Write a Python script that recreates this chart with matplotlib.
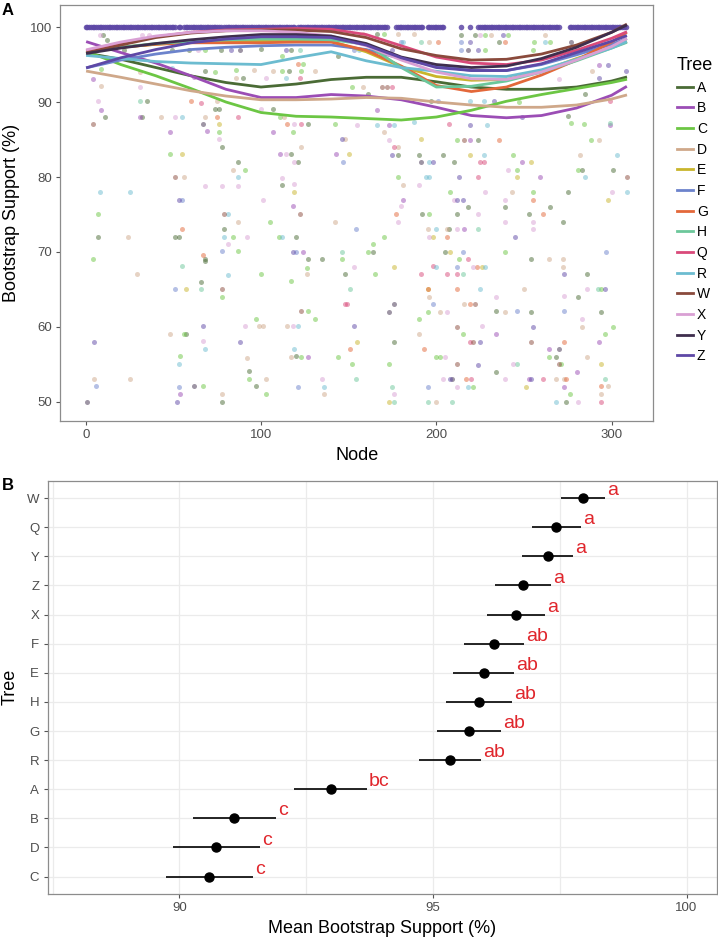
import numpy as np
import matplotlib
matplotlib.use('Agg')
import matplotlib.pyplot as plt
from matplotlib.lines import Line2D

plt.rcParams.update({
    "font.family": ["Liberation Sans", "DejaVu Sans"],
    "axes.edgecolor": "#8C8C8C",
    "axes.linewidth": 0.9,
    "xtick.color": "#555555",
    "ytick.color": "#555555",
    "xtick.labelcolor": "#4D4D4D",
    "ytick.labelcolor": "#4D4D4D",
    "xtick.labelsize": 9.5,
    "ytick.labelsize": 9.5,
})

# ==========================================
# Data
# ==========================================
trees = ["A", "B", "C", "D", "E", "F", "G", "H", "Q", "R", "W", "X", "Y", "Z"]
tree_colors = ["#4A6B35", "#9B4DB5", "#6CC644", "#CFA88A", "#C9B52C", "#6C83CC", "#E3683A",
               "#6CC79B", "#D94A7A", "#6CBCD0", "#8A4A3C", "#D9A0D4", "#3F2E4D", "#5E48A6"]

# nodes where every tree has 100% support (start, end)
full_support_runs = [(0, 51), (53, 54), (56, 77), (79, 119), (121, 172), (177, 192),
                     (195, 204), (214, 214), (219, 219), (224, 270), (276, 308)]

# scattered (node, support) values below 100
pts_A = [(10, 99), (12, 98.3), (22, 97), (11, 88), (7, 72), (35, 90.1), (32, 88), (51, 72), (53, 72),
         (68, 94.1), (74, 89.1), (68, 68.8), (49, 97), (59, 97), (68, 69.1), (66, 66), (57, 59), (93, 54.1),
         (97, 52.1), (78, 50), (127, 69), (135, 69), (120, 56.1), (148, 67), (176, 58), (77, 97), (100, 97.1),
         (117, 97), (144, 96.1), (116, 94.2), (90, 93.2), (76, 89.1), (78, 84), (107, 89.1), (127, 87.1),
         (117, 83.1), (121, 82), (87, 82), (112, 79), (79, 73), (120, 72), (164, 70), (178, 83), (190, 83),
         (192, 75), (161, 91.1), (166, 99.1), (214, 99), (222, 99), (236, 98), (234, 62.1), (254, 62),
         (294, 62), (268, 56), (234, 54), (274, 50), (286, 67), (281, 64), (254, 69), (275, 88.1), (285, 91.1),
         (197, 90.1), (224, 85), (204, 83), (210, 82), (283, 81), (301, 81), (275, 78), (218, 76), (239, 76),
         (265, 76), (212, 75), (253, 75), (272, 74), (207, 73), (205, 70)]
pts_B = [(31, 88), (48, 86), (69, 86.1), (107, 86), (111, 83.1), (118, 76.2), (124, 70), (127, 56), (54, 51),
         (143, 83.1), (173, 87), (181, 77), (234, 59), (264, 57), (280, 54), (253, 53.1), (273, 52), (293, 58),
         (219, 85), (249, 82), (259, 80), (216, 73), (4, 93.1), (9, 89), (62, 93.3), (166, 89), (293, 95),
         (299, 87)]
pts_C = [(9, 94.4), (7, 75.1), (4, 69.1), (48, 83.1), (68, 97), (56, 59.1), (54, 56.1), (67, 52.1), (78, 64),
         (100, 67), (97, 61), (93, 53), (103, 51), (117, 66.1), (126, 67.9), (127, 62.1), (131, 61.1), (123, 56),
         (146, 69), (165, 67), (144, 56), (152, 55), (173, 55.1), (190, 61.1), (213, 69.1), (195, 62), (301, 60),
         (215, 59), (296, 59.1), (200, 56), (202, 56), (264, 56), (271, 55), (221, 52), (276, 51), (294, 65),
         (170, 99.1), (112, 96.1), (124, 95.1), (112, 94.2), (123, 94.1), (76, 86), (111, 88), (118, 86),
         (91, 81), (105, 74), (84, 72), (110, 72), (87, 70.1), (161, 70), (164, 71), (170, 72), (142, 87.1),
         (178, 80), (196, 75), (152, 92), (228, 99), (241, 99), (256, 98), (265, 98), (228, 97), (255, 97),
         (277, 87.2), (284, 87.1), (247, 90), (212, 85), (288, 85), (244, 83), (246, 81), (281, 81), (208, 78),
         (255, 78), (239, 70), (74, 94), (86, 94.3)]
pts_D = [(9, 92.2), (24, 72), (43, 88), (56, 80), (68, 88), (29, 67), (48, 59.1), (5, 53), (25, 53.1),
         (99, 60.1), (101, 60.1), (92, 55.9), (103, 53), (78, 51), (126, 67), (115, 60.1), (117, 56), (136, 51),
         (190, 59.1), (196, 64), (216, 63), (202, 62), (239, 62), (283, 60), (286, 56), (268, 53), (273, 53),
         (298, 52.1), (294, 51), (200, 50), (272, 68), (272, 69), (264, 69), (250, 65), (158, 99.1), (178, 99.1),
         (187, 99.1), (168, 97), (107, 94.1), (131, 94.1), (86, 93.2), (75, 90.1), (113, 88), (123, 84), (84, 81),
         (87, 74), (142, 74), (148, 85.1), (170, 86), (178, 84), (181, 79), (195, 73), (158, 92), (231, 99),
         (262, 99), (196, 98), (289, 94.2), (293, 85), (282, 83), (243, 78), (206, 73), (31, 94), (96, 94.3)]
pts_E = [(55, 83.1), (57, 65), (176, 68), (155, 58), (173, 50), (226, 68), (195, 65), (251, 52), (294, 55),
         (76, 87.1), (119, 78), (150, 83.1), (191, 85.1), (219, 83), (254, 82), (246, 80), (298, 77), (198, 72),
         (208, 70)]
pts_F = [(55, 77), (51, 65), (6, 52.1), (53, 52), (121, 52), (212, 68), (198, 63), (246, 62.1), (273, 62.1),
         (195, 52), (153, 97), (180, 98), (154, 73), (78, 70.1), (120, 70), (147, 82), (201, 90.1), (214, 98),
         (214, 97), (215, 70), (297, 70)]
pts_G = [(55, 73.1), (60, 90.1), (75, 88), (67, 69.6), (151, 57), (195, 65), (193, 57), (223, 68), (212, 65),
         (219, 63), (273, 58), (217, 53), (274, 53), (294, 52.1), (121, 95.1), (115, 87.1), (177, 75), (201, 98),
         (239, 98), (236, 85), (255, 77), (261, 75), (206, 72)]
pts_H = [(31, 90.1), (55, 68.1), (66, 65), (151, 65.1), (154, 53.1), (175, 52), (176, 50), (195, 50), (215, 67),
         (246, 55), (296, 53), (209, 50), (292, 65), (122, 97), (191, 98), (146, 70), (299, 87.2), (224, 73)]
pts_Q = [(66, 89.9), (87, 88), (123, 87.1), (122, 93.2), (148, 63.1), (149, 63.1), (191, 67), (198, 68.1),
         (218, 69.1), (206, 67.1), (212, 67.1), (219, 58), (220, 53), (261, 53.1), (294, 50), (176, 84),
         (175, 92), (207, 87.1), (225, 82), (227, 82), (224, 80), (299, 90.1)]
pts_R = [(8, 78), (25, 78), (55, 88), (79, 72), (68, 57.1), (53, 55), (81, 66.9), (121, 60.1), (119, 57.1),
         (136, 52), (200, 68), (228, 68), (225, 65), (218, 52), (268, 50), (49, 94.6), (156, 97), (181, 98),
         (114, 93.2), (87, 80), (81, 75), (112, 72), (166, 87), (176, 87), (196, 80), (187, 87.3), (262, 98),
         (229, 87), (219, 90.1), (227, 90.1), (227, 83), (303, 83), (196, 82), (194, 80), (285, 80), (309, 78),
         (200, 73)]
pts_W = [(4, 87.1), (51, 80), (78, 65), (123, 62.1), (222, 63), (212, 60), (221, 58), (254, 58), (212, 55),
         (270, 55), (122, 75), (79, 75), (169, 92), (172, 92), (216, 85), (309, 80)]
pts_X = [(8, 99), (7, 90.1), (51, 88), (64, 97), (32, 99), (36, 99), (68, 78.8), (67, 58.1), (91, 60.1),
         (118, 60.1), (135, 53.1), (153, 68), (176, 51), (221, 68), (234, 64), (206, 62), (226, 60.1), (283, 61),
         (205, 56), (244, 55), (204, 53), (239, 53), (212, 52), (281, 50), (286, 65), (273, 64.1), (103, 93.2),
         (76, 85.1), (100, 89.1), (119, 87.1), (114, 83.1), (119, 82), (78, 78.8), (87, 78.8), (112, 79.9),
         (119, 79.1), (101, 77), (92, 72), (81, 71.1), (155, 87), (173, 85), (178, 74), (180, 76.2), (190, 79),
         (225, 99), (270, 93.1), (241, 81), (228, 78), (300, 78), (210, 77), (239, 77), (224, 75), (239, 74),
         (255, 74), (212, 73), (196, 72), (255, 73), (31, 92)]
pts_Y = [(67, 87.1), (62, 52.1), (1, 50), (173, 62), (176, 63.1), (270, 57), (209, 53), (88, 97), (191, 82),
         (277, 98), (218, 97)]
pts_Z = [(53, 77), (5, 58), (67, 60.1), (52, 50), (88, 58), (153, 60.1), (225, 58), (224, 54.9), (208, 53),
         (254, 53.1), (255, 60), (296, 65), (273, 67), (83, 97), (114, 97), (175, 97), (118, 70), (146, 85.1),
         (175, 83), (238, 99), (219, 98), (224, 97), (298, 95), (308, 94.1), (293, 93.2), (219, 87), (233, 90.2),
         (249, 88), (198, 82), (213, 80), (212, 77), (215, 77), (245, 72)]

# smoothed trend per tree, read at these nodes
fit_nodes = [1, 20, 40, 60, 80, 100, 120, 140, 160, 180, 200, 220, 240, 260, 280, 300, 308]
fit_A = [96.5, 95.7, 94.6, 93.5, 92.6, 92.0, 92.4, 93.0, 93.3, 93.3, 92.7, 92.0, 91.7, 91.7, 92.0, 92.8, 93.3]
fit_B = [98.0, 96.6, 95.2, 93.5, 91.7, 90.6, 90.6, 91.0, 90.8, 90.3, 89.3, 88.2, 87.9, 88.2, 89.2, 90.9, 92.0]
fit_C = [96.7, 95.0, 93.5, 91.8, 90.0, 88.6, 88.1, 88.0, 87.8, 87.6, 88.0, 88.9, 90.1, 91.0, 91.8, 92.6, 93.0]
fit_D = [94.1, 93.3, 92.4, 91.5, 90.8, 90.3, 90.3, 90.4, 90.6, 90.5, 90.0, 89.6, 89.3, 89.3, 89.6, 90.4, 90.9]
fit_E = [96.8, 97.3, 97.7, 98.0, 98.1, 98.1, 98.1, 98.1, 96.7, 94.7, 93.4, 92.9, 93.0, 94.1, 95.8, 97.3, 98.0]
fit_F = [94.6, 95.6, 96.4, 97.0, 97.3, 97.5, 97.6, 97.6, 97.0, 95.8, 94.8, 94.2, 94.2, 95.0, 96.3, 97.7, 98.4]
fit_G = [96.8, 97.3, 97.7, 97.9, 97.9, 97.9, 98.0, 98.0, 96.9, 94.8, 92.2, 91.4, 92.0, 93.6, 95.6, 98.0, 99.2]
fit_H = [96.8, 97.3, 97.8, 98.1, 98.3, 98.4, 98.4, 98.3, 97.7, 94.6, 92.0, 92.1, 92.8, 94.0, 95.5, 97.2, 97.9]
fit_Q = [96.9, 97.8, 98.7, 99.3, 99.6, 99.7, 99.8, 99.7, 99.0, 97.5, 96.0, 95.2, 95.0, 95.6, 96.9, 98.5, 99.3]
fit_R = [96.2, 95.8, 95.4, 95.2, 95.1, 95.0, 95.9, 96.7, 95.5, 94.6, 94.1, 93.5, 93.4, 94.3, 95.7, 97.2, 98.0]
fit_W = [96.6, 97.6, 98.6, 99.2, 99.5, 99.6, 99.6, 99.4, 98.6, 97.1, 96.2, 95.6, 95.7, 96.4, 97.6, 99.3, 100.3]
fit_X = [97.0, 98.0, 98.8, 99.3, 99.5, 99.5, 99.3, 98.8, 97.5, 95.6, 94.0, 93.1, 93.0, 94.0, 95.6, 97.4, 98.4]
fit_Y = [96.5, 97.2, 97.8, 98.3, 98.7, 99.0, 99.0, 98.8, 97.8, 96.0, 95.0, 94.6, 94.8, 95.8, 97.3, 99.3, 100.2]
fit_Z = [94.6, 95.9, 97.0, 97.9, 98.4, 98.7, 98.7, 98.6, 97.6, 95.9, 94.6, 94.2, 94.2, 95.1, 96.6, 98.1, 98.8]

# panel B: mean support with confidence interval, bottom to top
b_trees = ["C", "D", "B", "A", "R", "G", "H", "E", "F", "X", "Z", "Y", "Q", "W"]
b_mean = [90.59, 90.73, 91.08, 92.98, 95.34, 95.71, 95.91, 96.01, 96.21, 96.64, 96.77, 97.27, 97.43, 97.96]
b_lo = [89.73, 89.87, 90.26, 92.26, 94.73, 95.08, 95.26, 95.40, 95.62, 96.07, 96.22, 96.76, 96.95, 97.52]
b_hi = [91.45, 91.59, 91.91, 93.69, 95.95, 96.34, 96.56, 96.60, 96.80, 97.21, 97.33, 97.77, 97.92, 98.39]
b_groups = ["c", "c", "c", "bc", "ab", "ab", "ab", "ab", "ab", "a", "a", "a", "a", "a"]

points = {"A": pts_A, "B": pts_B, "C": pts_C, "D": pts_D, "E": pts_E, "F": pts_F, "G": pts_G,
          "H": pts_H, "Q": pts_Q, "R": pts_R, "W": pts_W, "X": pts_X, "Y": pts_Y, "Z": pts_Z}
fits = {"A": fit_A, "B": fit_B, "C": fit_C, "D": fit_D, "E": fit_E, "F": fit_F, "G": fit_G,
        "H": fit_H, "Q": fit_Q, "R": fit_R, "W": fit_W, "X": fit_X, "Y": fit_Y, "Z": fit_Z}

# ==========================================
# Layout (pixel based)
# ==========================================
W, H = 718, 939
fig = plt.figure(figsize=(W / 100, H / 100), dpi=100)


def px_axes(left, top, right, bottom):
    return fig.add_axes([left / W, 1 - bottom / H, (right - left) / W, (bottom - top) / H])


ax_a = px_axes(60.3, 5.3, 653, 420.7)
ax_b = px_axes(47.5, 480.7, 717, 894)

# ---------- Panel A ----------
for t, c in zip(trees, tree_colors):
    p = np.array(points[t], dtype=float)
    ax_a.scatter(p[:, 0], p[:, 1], s=13, color=c, alpha=0.5, linewidths=0, zorder=2)

full_nodes = np.concatenate([np.arange(a, b + 1) for a, b in full_support_runs])
ax_a.scatter(full_nodes, np.full(len(full_nodes), 100.0), s=16, color="#5E48A6", alpha=0.85,
             linewidths=0, zorder=2)

for t, c in zip(trees, tree_colors):
    ax_a.plot(fit_nodes, fits[t], color=c, lw=2.0, zorder=3, solid_joinstyle="round")

ax_a.set_xlim(-14.5, 323.6)
ax_a.set_ylim(47.5, 102.9)
ax_a.set_xticks([0, 100, 200, 300])
ax_a.set_yticks([50, 60, 70, 80, 90, 100])
ax_a.tick_params(length=3, width=0.8, pad=3)

handles = [Line2D([], [], color=c, lw=2) for c in tree_colors]
leg = ax_a.legend(handles, trees, loc="upper left", bbox_to_anchor=(676.7 / W, 1 - 57 / H),
                  bbox_transform=fig.transFigure, frameon=False, title="Tree", fontsize=10,
                  title_fontsize=13, borderpad=0, borderaxespad=0, handlelength=1.15,
                  handletextpad=0.3, labelspacing=0.48, alignment="left")

fig.text(12 / W, 1 - 213 / H, "Bootstrap Support (%)", rotation=90, ha="center", va="center", fontsize=13)
fig.text(356.7 / W, 1 - 456 / H, "Node", ha="center", va="center", fontsize=13)
fig.text(2 / W, 1 - 15 / H, "A", ha="left", va="baseline", fontsize=12, fontweight="bold")

# ---------- Panel B ----------
idx = np.arange(1, len(b_trees) + 1)
ax_b.set_xlim(87.4, 100.6)
ax_b.set_ylim(0.4, 14.6)
ax_b.set_xticks([90, 95, 100])
ax_b.set_xticks([87.5, 92.5, 97.5], minor=True)
ax_b.set_yticks(idx)
ax_b.set_yticklabels(b_trees)
ax_b.grid(True, which="both", color="#EBEBEB", lw=0.9, zorder=0)
ax_b.set_axisbelow(True)
ax_b.tick_params(which="major", length=3, width=0.8, pad=3)
ax_b.tick_params(which="minor", length=0)

ax_b.hlines(idx, b_lo, b_hi, color="black", lw=1.2, zorder=3)
ax_b.plot(b_mean, idx, "o", color="black", ms=6.5, zorder=4)
for y, hi, g in zip(idx, b_hi, b_groups):
    ax_b.text(hi + 0.04, y + 0.1, g, color="#E0262C", fontsize=14, ha="left", va="baseline")

fig.text(10 / W, 1 - 687 / H, "Tree", rotation=90, ha="center", va="center", fontsize=13)
fig.text(382 / W, 1 - 928.5 / H, "Mean Bootstrap Support (%)", ha="center", va="center", fontsize=13)
fig.text(2 / W, 1 - 490 / H, "B", ha="left", va="baseline", fontsize=12, fontweight="bold")

fig.savefig("out.png", dpi=100)
